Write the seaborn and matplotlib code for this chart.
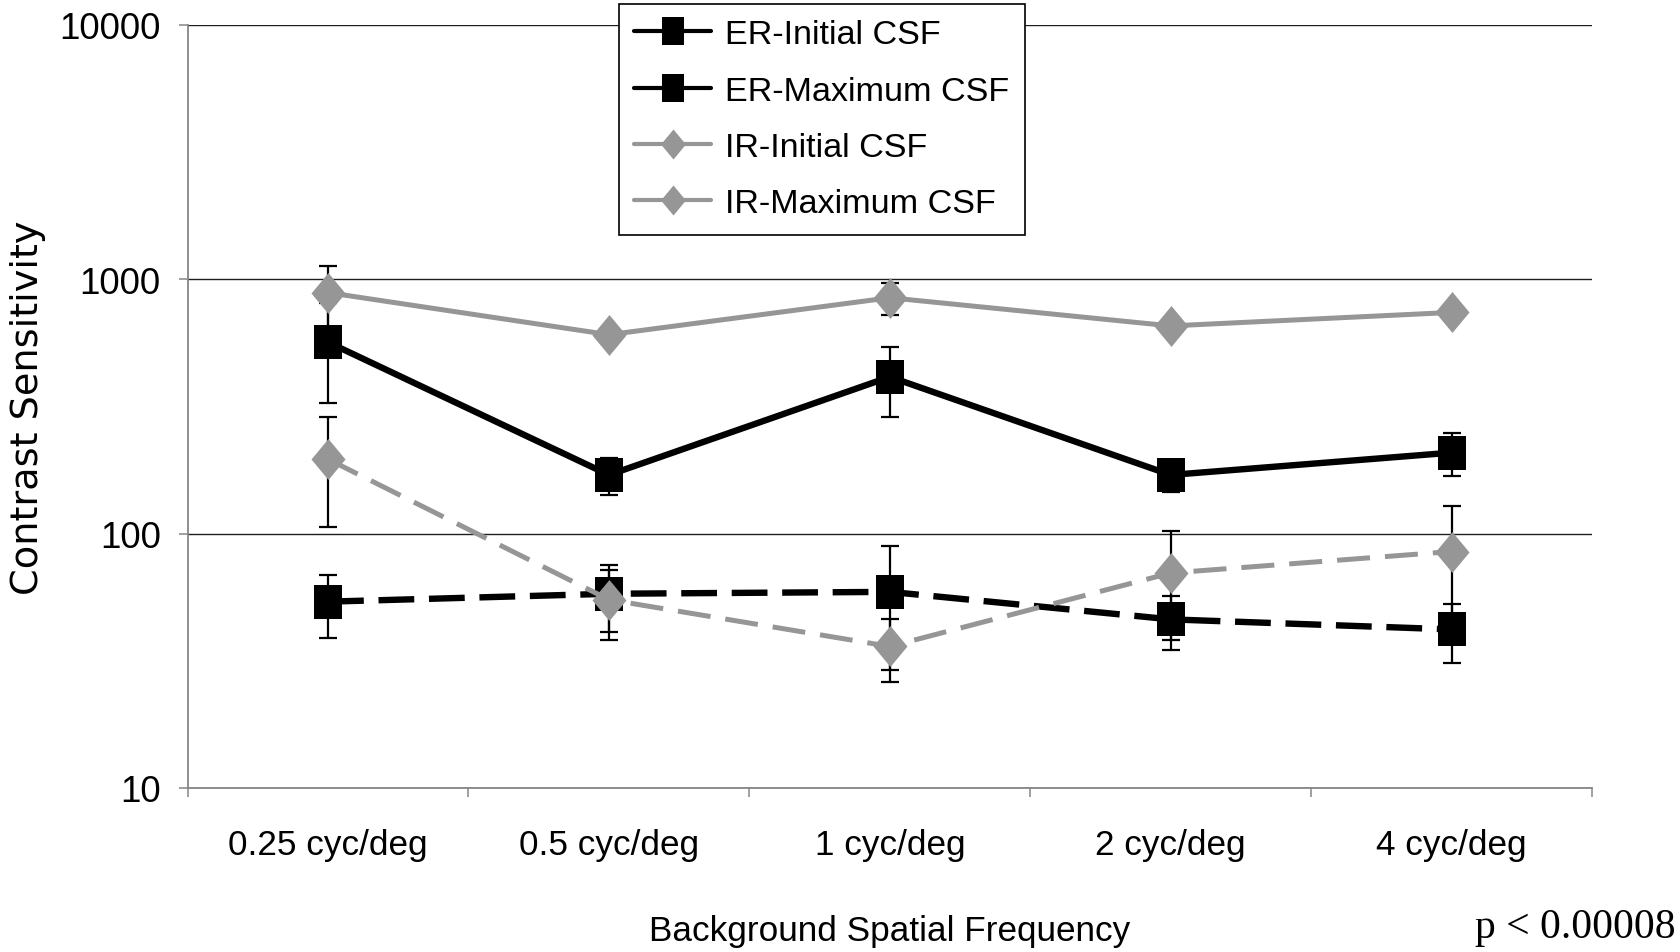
import numpy as np
import pandas as pd
import matplotlib
matplotlib.use("Agg")
import matplotlib.pyplot as plt
from matplotlib.lines import Line2D
from matplotlib.path import Path
from matplotlib.ticker import NullLocator
import seaborn as sns

# ---- data -------------------------------------------------------------
categories = ["0.25 cyc/deg", "0.5 cyc/deg", "1 cyc/deg", "2 cyc/deg", "4 cyc/deg"]

er_initial = [54, 58, 59, 46, 42]
er_initial_err = [15, 17, 30, 11, 11]
er_maximum = [565, 170, 413, 170, 208]
er_maximum_err = [240, 28, 127, 24, 40]
ir_initial = [196, 55, 36, 70, 85]
ir_initial_err = [90, 17, 10, 32, 43]
ir_maximum = [885, 605, 845, 655, 740]
ir_maximum_err = [243, 35, 123, 40, 45]

series_names = ["ER-Initial CSF", "ER-Maximum CSF", "IR-Initial CSF", "IR-Maximum CSF"]
y_ticks = [10, 100, 1000, 10000]
y_tick_labels = ["10", "100", "1000", "10000"]

x_title = "Background Spatial Frequency"
y_title = "Contrast Sensitivity"
p_note = "p < 0.00008"

# ---- styling ----------------------------------------------------------
sns.set_theme(style="white")
plt.rcParams["font.family"] = ["Liberation Sans", "DejaVu Sans"]

BLACK = "#000000"
GRAY = "#969696"
AXIS_GRAY = "#868686"

# slightly tall square and diamond markers
rect = Path([(-0.42, -0.5), (0.42, -0.5), (0.42, 0.5), (-0.42, 0.5), (-0.42, -0.5)], closed=True)
diamond = Path([(0, 0.5), (0.415, 0), (0, -0.5), (-0.415, 0), (0, 0.5)], closed=True)

series = {
    "ER-Initial CSF": (er_initial, er_initial_err,
                       dict(color=BLACK, lw=4.6, ls=(0, (5.6, 2.3)), marker=rect, ms=23.8, z=3)),
    "ER-Maximum CSF": (er_maximum, er_maximum_err,
                       dict(color=BLACK, lw=4.6, ls="-", marker=rect, ms=23.8, z=4)),
    "IR-Initial CSF": (ir_initial, ir_initial_err,
                       dict(color=GRAY, lw=3.6, ls=(0, (6.6, 3.0)), marker=diamond, ms=29.5, z=5)),
    "IR-Maximum CSF": (ir_maximum, ir_maximum_err,
                       dict(color=GRAY, lw=3.6, ls="-", marker=diamond, ms=29.5, z=6)),
}

fig = plt.figure(figsize=(16.81, 9.53), dpi=100)
ax = fig.add_axes([0.1116, 0.1721, 0.8355, 0.8009])
ax.set_facecolor("white")

# error bars underneath the lines
for name in series_names:
    vals, errs, st = series[name]
    ax.errorbar(categories, vals, yerr=errs, fmt="none", ecolor=BLACK,
                elinewidth=1.6, capsize=6.5, capthick=1.6, zorder=2)

# lines with markers
for name in series_names:
    vals, errs, st = series[name]
    df = pd.DataFrame({"freq": categories, "cs": vals})
    sns.lineplot(data=df, x="freq", y="cs", ax=ax, sort=False, errorbar=None,
                 color=st["color"], linewidth=st["lw"], linestyle=st["ls"],
                 marker=st["marker"], markersize=st["ms"], markeredgewidth=0,
                 markeredgecolor=st["color"], markerfacecolor=st["color"],
                 zorder=st["z"], legend=False)

# ---- axes -------------------------------------------------------------
ax.set_yscale("log")
ax.set_ylim(y_ticks[0], y_ticks[-1])
ax.set_yticks(y_ticks)
ax.set_yticklabels(y_tick_labels)
ax.yaxis.set_minor_locator(NullLocator())

n = len(categories)
ax.set_xlim(-0.5, n - 0.5)
ax.set_xticks(np.arange(n))
ax.set_xticklabels(categories)
ax.set_xticks(np.arange(n + 1) - 0.5, minor=True)

ax.grid(False)
ax.grid(axis="y", which="major", color="#1e1e1e", linewidth=1.0, zorder=1)

for side in ("top", "right"):
    ax.spines[side].set_visible(False)
for side in ("left", "bottom"):
    ax.spines[side].set_color(AXIS_GRAY)
    ax.spines[side].set_linewidth(1.3)
    ax.spines[side].set_zorder(2.5)

ax.tick_params(axis="y", which="major", direction="out", length=6.3, width=1.1,
               color=AXIS_GRAY, pad=13, labelsize=26.5, labelcolor=BLACK, left=True)
ax.tick_params(axis="x", which="major", length=0, pad=28.5, labelsize=25.3,
               labelcolor=BLACK, bottom=True)
ax.tick_params(axis="x", which="minor", direction="out", length=6.5, width=1.1,
               color=AXIS_GRAY, bottom=True)

ax.set_xlabel(x_title, fontsize=25.3, color=BLACK)
ax.xaxis.set_label_coords(0.5, -0.1991)
ax.xaxis.label.set_verticalalignment("baseline")

ax.set_ylabel(y_title, fontsize=27.5, color=BLACK, family=["DejaVu Sans"])
ax.yaxis.set_label_coords(-0.1133, 0.5)
ax.yaxis.label.set_verticalalignment("center")

# ---- legend (solid sample lines for every entry) ----------------------
handles = []
for name in series_names:
    st = series[name][2]
    handles.append(Line2D([], [], color=st["color"], lw=3.0, ls="-",
                          marker=st["marker"],
                          markersize=19.5 if st["marker"] is rect else 21.6,
                          markeredgewidth=0, markerfacecolor=st["color"]))
leg = fig.legend(handles, series_names, loc="upper left",
                 bbox_to_anchor=(619 / 1681, 1 - 5 / 953), bbox_transform=fig.transFigure,
                 fontsize=24.6, frameon=True, fancybox=False, shadow=False,
                 framealpha=1, borderpad=0.45, labelspacing=0.74,
                 handlelength=2.25, handletextpad=0.41, borderaxespad=0)
leg.get_frame().set_edgecolor(BLACK)
leg.get_frame().set_linewidth(1.2)
for t in leg.get_texts():
    t.set_color(BLACK)

fig.text(1676 / 1681, 1 - 938 / 953, p_note, ha="right", va="baseline",
         fontsize=30, family=["Liberation Serif", "DejaVu Serif"], color=BLACK)

fig.savefig("out.png", dpi=100, facecolor="white")
